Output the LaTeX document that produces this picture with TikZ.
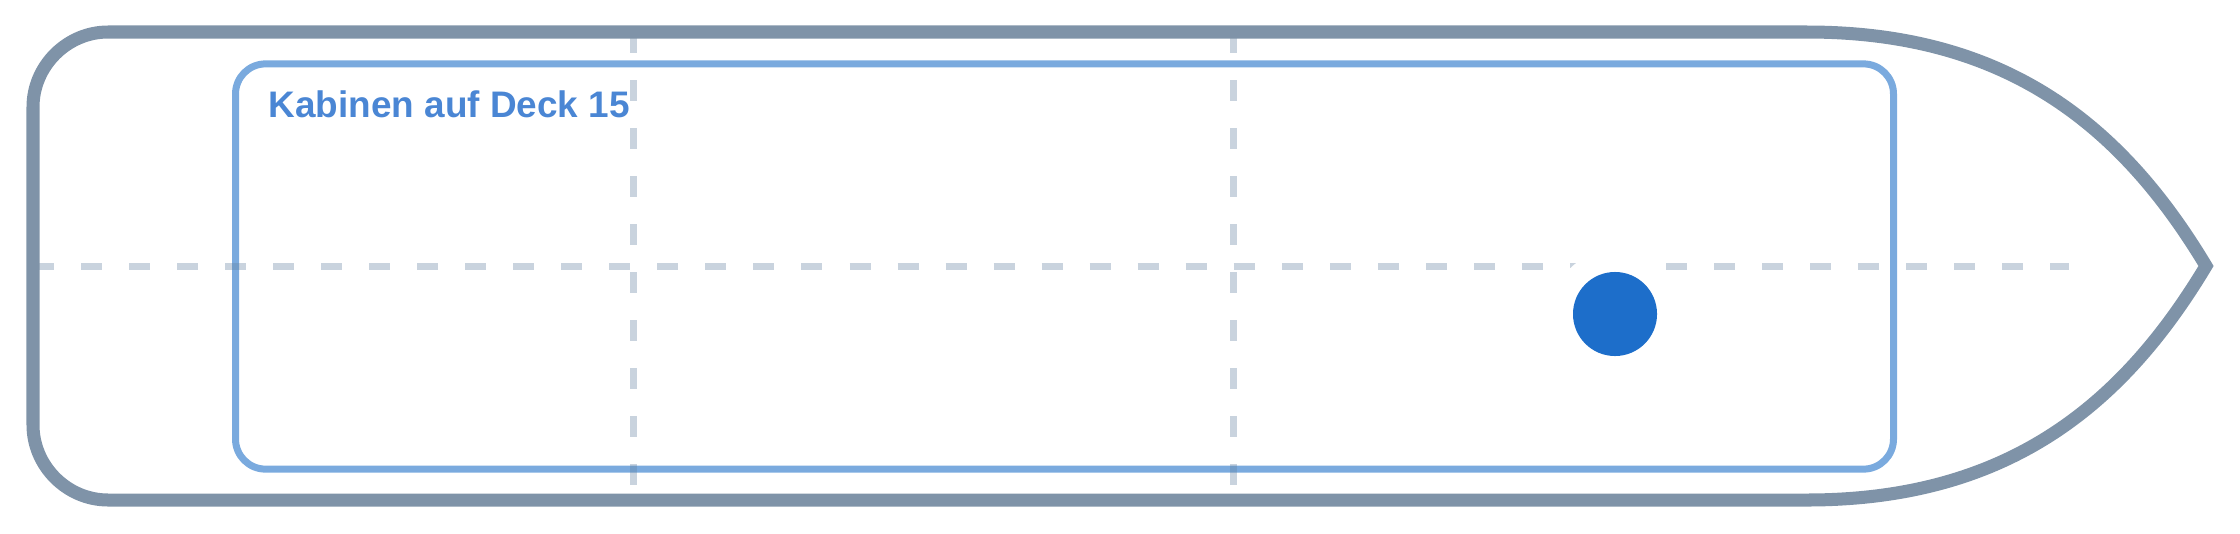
\documentclass[tikz,border=0pt]{standalone}
\usepackage{fontspec}
\setmainfont{Liberation Sans}
\usetikzlibrary{positioning}

\definecolor{hullgrey}{HTML}{7F93A8}
\definecolor{deckblue}{HTML}{7AAADE}
\definecolor{gridgrey}{HTML}{6482A0}
\definecolor{titleblue}{HTML}{4A86D4}
\definecolor{cabinblue}{HTML}{1D6ECA}

\begin{document}
\begin{tikzpicture}[x=0.01cm, y=-0.01cm, line join=miter]

    \tikzset{
      hull/.style   = {draw=hullgrey, line width=0.13cm},
      deck/.style   = {shape=rectangle, draw=deckblue, line width=0.07cm,
                       rounded corners=0.3cm, inner sep=0pt},
      grid/.style   = {draw=gridgrey, draw opacity=0.35, line width=0.07cm,
                       dash pattern=on 0.21cm off 0.27cm},
      halo/.style   = {shape=circle, fill=white, minimum size=1.28cm, inner sep=0pt},
      cabin/.style  = {shape=circle, fill=cabinblue, minimum size=0.84cm, inner sep=0pt},
      title/.style  = {text=titleblue, inner sep=0pt,
                       font=\fontsize{10.5pt}{12pt}\selectfont\bfseries},
    }

    \useasboundingbox (0,0) rectangle (2240,533);

    \node[deck, minimum width=16.57cm, minimum height=4.05cm] (D) at (1064.5,266.5) {};

    % Hilfslinien
    \coordinate (L)  at (33,266);
    \coordinate (R)  at (2069,266);
    \coordinate (A1) at (633,32);
    \coordinate (A2) at (633,500);
    \coordinate (B1) at (1233,32);
    \coordinate (B2) at (1233,500);
    \draw[grid] (L) -- (R);
    \draw[grid] (A1) -- (A2);
    \draw[grid] (B1) -- (B2);

    \node[halo ] (H) at (1615,314) {};
    \node[cabin] (C) at (H) {};

    \node[title, anchor=base west] (T) at (268,117) {Kabinen auf Deck 15};

    % Rumpf
    \draw[hull] (33,266) -- (33,107) .. controls (33,66) and (67,32) .. (108,32)
      -- (1807,32) .. controls (2007,32) and (2122,126) .. (2206,266)
      .. controls (2122,406) and (2007,500) .. (1807,500)
      -- (108,500) .. controls (67,500) and (33,466) .. (33,425) -- cycle;

  \end{tikzpicture}
\end{document}
